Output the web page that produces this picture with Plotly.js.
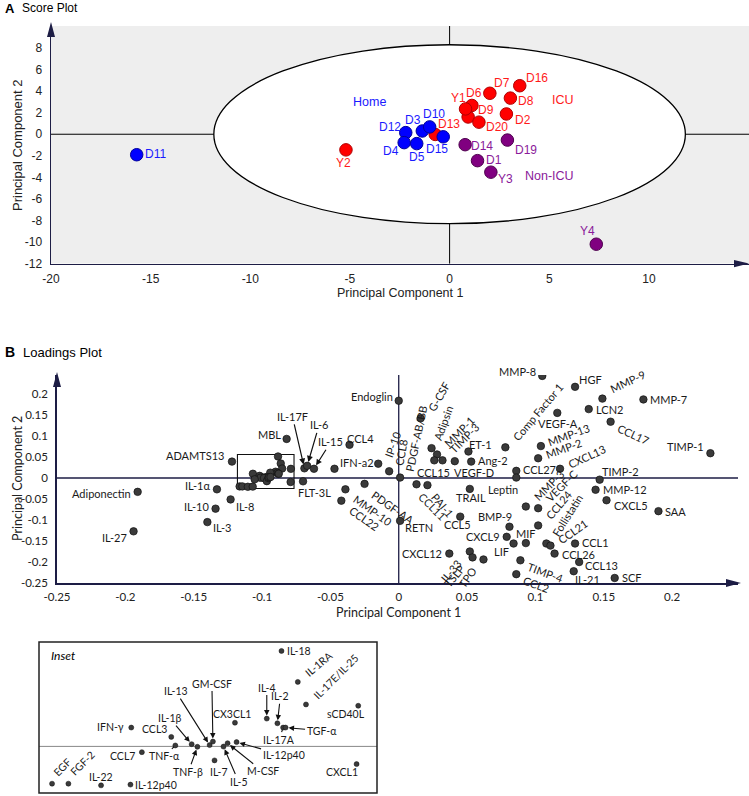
<!DOCTYPE html>
<html><head><meta charset="utf-8">
<script src="https://cdn.plot.ly/plotly-3.0.1.min.js"></script>
<style>html,body{margin:0;padding:0;background:#fff}#chart{width:749px;height:796px}</style>
</head><body><div id="chart"></div>
<script>
// ================= DATA =================
// Score plot (PCA scores)
const homeNames = ['D11','D12','D4','D5','D3','D10','D15'];
const homePC1 = [-15.7,-2.2,-2.28,-1.65,-1.37,-1.0,-0.32];
const homePC2 = [-1.9,0.15,-0.78,-0.87,0.3,0.68,-0.24];
const icuNames = ['Y2','D13','D9','D20','D6','Y1','D7','D16','D8','D2'];
const icuPC1 = [-5.2,-0.72,0.93,1.47,1.12,0.8,2.02,3.52,3.05,2.85];
const icuPC2 = [-1.45,-0.02,1.6,1.12,2.67,2.35,3.8,4.5,3.35,1.88];
const nonIcuNames = ['D14','D19','D1','Y3','Y4'];
const nonIcuPC1 = [0.78,2.9,1.4,2.07,7.36];
const nonIcuPC2 = [-0.97,-0.54,-2.45,-3.52,-10.2];
const groupNames = ['Home','ICU','Non-ICU'];
const ellipsePC1 = 11.83, ellipsePC2 = 8.3;   // Hotelling T2 limits
const scoreXTicks = [-20,-15,-10,-5,0,5,10];
const scoreYTicks = [-12,-10,-8,-6,-4,-2,0,2,4,6,8];

// Loadings plot
const loadNames = ['Endoglin','MMP-8','HGF','MMP-9','MMP-7','LCN2','VEGF-A','CCL17','TIMP-1','Comp Factor 1',
 'MMP-13','MMP-2','CXCL13','CCL27','Leptin','TIMP-2','MMP-12','CXCL5','SAA','G-CSF',
 'Adipsin','MMP-1','CCL15','TIMP-3','VEGF-D','ET-1','Ang-2','IP-10','CCL8','PDGF-AB/BB',
 'CCL11','PAI-1','TRAIL','MMP-3','VEGF-C','CCL24','CCL5','RETN','BMP-9','CXCL9',
 'LIF','MIF','Follistatin','CCL21','CCL1','CCL26','CCL13','CXCL12','IL-33','TSLP',
 'TPO','TIMP-4','CCL2','IL-21','SCF','Adiponectin','IL-27','IL-1α','IL-10','IL-8',
 'IL-3','ADAMTS13','MBL','IL-17F','IL-6','IL-15','CCL4','IFN-a2','FLT-3L','PDGF-AA',
 'MMP-10','CCL22'];
const loadPC1 = [0.000,0.105,0.129,0.149,0.179,0.139,0.116,0.155,0.228,0.078,
 0.104,0.102,0.118,0.086,0.086,0.147,0.144,0.152,0.190,0.016,
 0.024,0.028,0.026,0.032,0.041,0.051,0.053,-0.015,-0.007,0.001,
 0.013,0.021,0.052,0.093,0.102,0.102,0.045,0.001,0.081,0.079,
 0.084,0.093,0.108,0.111,0.129,0.114,0.132,0.037,0.052,0.054,
 0.062,0.089,0.086,0.128,0.158,-0.191,-0.194,-0.133,-0.134,-0.123,
 -0.140,-0.122,-0.082,-0.069,-0.067,-0.062,-0.036,-0.047,-0.070,-0.025,
 -0.039,-0.042];
const loadPC2 = [0.184,0.243,0.217,0.189,0.187,0.164,0.155,0.134,0.059,0.073,
 0.076,0.047,0.022,0.017,0.001,-0.004,-0.028,-0.053,-0.079,0.142,
 0.071,0.056,0.042,0.042,0.040,0.063,0.039,0.034,0.016,0.001,
 -0.015,-0.017,-0.026,-0.068,-0.072,-0.113,-0.092,-0.102,-0.116,-0.140,
 -0.156,-0.155,-0.156,-0.161,-0.156,-0.180,-0.200,-0.180,-0.175,-0.189,
 -0.194,-0.196,-0.229,-0.222,-0.238,-0.033,-0.127,-0.027,-0.073,-0.051,
 -0.105,0.039,0.093,0.023,0.029,0.022,0.079,0.022,-0.008,-0.014,
 -0.027,-0.054];
const loadXTicks = [-0.25,-0.2,-0.15,-0.1,-0.05,0,0.05,0.1,0.15,0.2];
const loadXText = ['-0.25','-0.2','-0.15','-0.1','-0.05','0','0.05','0.1','0.15','0.2'];
const loadYTicks = [-0.25,-0.2,-0.15,-0.1,-0.05,0,0.05,0.1,0.15,0.2];
const loadYText = ['-0.25','-0.2','-0.15','-0.1','-0.05','0','0.05','0.1','0.15','0.2'];

// Inset (zoomed cluster)
const insetNames = ['IL-18','IL-1RA','IL-17E/IL-25','sCD40L','IL-4','IL-2','IL-17A','TGF-α','CX3CL1','IFN-γ',
 'CCL3','GM-CSF','IL-13','IL-1β','TNF-α','TNF-β','IL-7','IL-5','M-CSF','IL-12p40',
 'CCL7','CXCL1','EGF','FGF-2','IL-22','IL-12p40'];
const insetPC1 = [-0.0883,-0.0863,-0.0853,-0.0789,-0.0901,-0.0888,-0.0881,-0.0878,-0.0940,-0.1067,
 -0.1018,-0.0967,-0.0971,-0.0993,-0.1013,-0.0986,-0.0965,-0.0954,-0.0949,-0.0938,
 -0.1054,-0.0791,-0.1164,-0.1144,-0.1104,-0.1068];
const insetPC2 = [0.0512,0.0346,0.0225,0.0218,0.0149,0.0124,0.0101,0.0101,0.0127,0.0101,
 0.0051,0.0026,0.0007,0.0012,0.0005,-0.0002,-0.0075,-0.0001,0.0017,0.0023,
 -0.0031,-0.0095,-0.0200,-0.0200,-0.0209,-0.0205];
const insetRangePC1 = [-0.118,-0.0766];
const insetRangePC2 = [-0.025,0.056];

// ================= STYLE TABLES =================
const W = 749, H = 796;
const fA = 'Liberation Sans, Arial, sans-serif';
const fB = 'Lato, Carlito, Calibri, sans-serif';
const navy = '#1d1d45';
const AN = {l:'left',c:'center',r:'right',t:'top',m:'middle',b:'bottom'};

// score label offsets (px, centre of text relative to marker; dy up)
const scoreLabelOff = {
 D11:[19,1],D12:[-15.7,5.7],D4:[-13.3,-8.3],D5:[0.7,-13],D3:[-9,10.7],D10:[4,12.7],D15:[-6.7,-12.3],
 Y2:[-2.3,-13.3],D13:[14,10.7],Y1:[-6.7,11],D6:[2,12.3],D7:[11.7,10],D16:[17.3,7.7],D8:[16,-3.3],
 D9:[17.7,6.7],D2:[16.7,-5.7],D20:[17.7,-5],D14:[16.7,-1],D19:[18.7,-9.7],D1:[16,1],Y3:[14.3,-7.3],Y4:[-9,13.3]
};
const groupPos = {Home:[-4.0,3.0],'ICU':[5.7,3.15],'Non-ICU':[5.0,-3.9]};

// loadings label style: [dx, dy(up), angle, xanchor, yanchor]
const loadLabel = {
 'Endoglin':[-4,4,0,'r','m'],'MMP-8':[-4,4,0,'r','m'],'HGF':[2,7,0,'l','m'],'MMP-9':[3,1,-25,'l','b'],
 'MMP-7':[5,0,0,'l','m'],'LCN2':[5,0,0,'l','m'],'VEGF-A':[1,-11,0,'c','m'],'CCL17':[3,3,25,'l','t'],
 'TIMP-1':[-4,7,0,'r','m'],'Comp Factor 1':[2,2,-50,'l','b'],'MMP-13':[3,-5,-20,'l','b'],
 'MMP-2':[3,-5,-20,'l','b'],'CXCL13':[3,-5,-25,'l','b'],'CCL27':[5,1,0,'l','m'],'Leptin':[4,-12,0,'r','m'],
 'TIMP-2':[0,8,0,'l','m'],'MMP-12':[5,0,0,'l','m'],'CXCL5':[5,-5,0,'l','m'],'SAA':[5,0,0,'l','m'],
 'G-CSF':[2,2,-60,'l','b'],'Adipsin':[-3,4,-70,'l','b'],'MMP-1':[2,2,-45,'l','b'],'CCL15':[-1,-12,0,'c','m'],
 'TIMP-3':[2,2,-45,'l','b'],'VEGF-D':[19,-11,0,'c','m'],'ET-1':[12,7,0,'c','m'],'Ang-2':[5,1,0,'l','m'],
 'IP-10':[1,2,-70,'l','b'],'CCL8':[1,2,-80,'l','b'],'PDGF-AB/BB':[0,3,-78,'l','b'],'CCL11':[-3,-3,45,'l','t'],
 'PAI-1':[-1,-3,50,'l','t'],'TRAIL':[1,-9,0,'c','m'],'MMP-3':[2,1,-45,'l','b'],'VEGF-C':[2,1,-45,'l','b'],
 'CCL24':[2,1,-50,'l','b'],'CCL5':[-3,-8,0,'c','m'],'RETN':[3,-7,0,'l','m'],'BMP-9':[-14,10,0,'c','m'],
 'CXCL9':[-5,0,0,'r','m'],'LIF':[-12,-8,0,'c','m'],'MIF':[0,10,0,'c','m'],'Follistatin':[0,2,-58,'l','b'],
 'CCL21':[2,-3,-35,'l','b'],'CCL1':[5,1,0,'l','m'],'CCL26':[5,-1,0,'l','m'],'CCL13':[4,-3,0,'l','m'],
 'CXCL12':[-5,0,0,'r','m'],'IL-33':[-3,-2,-50,'r','t'],'TSLP':[-2,-2,-50,'r','t'],'TPO':[-2,-2,-55,'r','t'],
 'TIMP-4':[3,3,20,'l','t'],'CCL2':[3,3,20,'l','t'],'IL-21':[14,-8,0,'c','m'],'SCF':[5,0,0,'l','m'],
 'Adiponectin':[-5,-2,0,'r','m'],'IL-27':[-5,-6,0,'r','m'],'IL-1α':[-5,4,0,'r','m'],'IL-10':[-5,2,0,'r','m'],
 'IL-8':[3,-7,0,'l','m'],'IL-3':[4,-5,0,'l','m'],'ADAMTS13':[-6,6,0,'r','m'],'MBL':[-4,4,0,'r','m'],
 'CCL4':[11,6,0,'c','m'],'IFN-a2':[4,6,0,'l','m'],'FLT-3L':[11,-11,0,'c','m'],'PDGF-AA':[2,-1,35,'l','t'],
 'MMP-10':[3,0,35,'l','t'],'CCL22':[3,0,35,'l','t']
};
const loadArrow = {'IL-17F':[-12,-52],'IL-6':[12,-41],'IL-15':[17,-27]};

// inset label style, aligned with insetNames: ['t',dx,dy,angle,xa,ya] | ['a',ax,ay] arrow | ['n',ax,ay] leader
const insetLabel = [
 ['t',4,0,0,'l','m'],['t',2,0,-40,'l','b'],['t',2,0,-45,'l','b'],['t',-12,-8,0,'c','m'],['a',0,-31],
 ['a',3,-27],['n',-4,12],['a',36,3],['t',-3,9,0,'c','m'],['t',-5,1,0,'r','m'],
 ['t',-17,8,0,'c','m'],['a',-1,-58],['a',-34,-54],['a',-22,-26],['n',-11,11],
 ['a',-9,25],['t',4,-12,0,'c','m'],['a',15,35],['a',35,28],['a',47,13],
 ['t',-5,-4,0,'r','m'],['t',-15,-8,0,'c','m'],['t',-4,3,-45,'l','b'],['t',-3,3,-45,'l','b'],['t',0,8,0,'c','m'],
 ['t',3,0,0,'l','m']
];

// ================= BUILD =================
const px = p => p / W, py = p => 1 - p / H;
const P = (x, y) => `${px(x)},${py(y)}`;

function scoreTrace(names, x, y, fill, edge) {
  return {type:'scatter', mode:'markers', x, y, text:names, xaxis:'x', yaxis:'y', hoverinfo:'text',
    marker:{size:12.5, color:fill, line:{color:edge, width:1}}};
}
const traces = [
  scoreTrace(icuNames, icuPC1, icuPC2, '#ff0000', '#b00000'),
  scoreTrace(homeNames, homePC1, homePC2, '#0000ff', '#00009a'),
  scoreTrace(nonIcuNames, nonIcuPC1, nonIcuPC2, '#800080', '#4d004d'),
  {type:'scatter', mode:'markers', x:loadPC1.concat(insetPC1), y:loadPC2.concat(insetPC2), xaxis:'x2', yaxis:'y2',
    marker:{size:7.5, color:'#3a3a3a', line:{color:'#111', width:0.7}}, hoverinfo:'skip'},
  {type:'scatter', mode:'markers', x:insetPC1, y:insetPC2, xaxis:'x3', yaxis:'y3',
    marker:{size:5, color:'#3a3a3a', line:{color:'#111', width:0.5}}, hoverinfo:'skip'}
];

const ann = [];
function addScore(names, x, y, color) {
  names.forEach((n, i) => {
    const o = scoreLabelOff[n];
    ann.push({xref:'x', yref:'y', x:x[i], y:y[i], text:n, showarrow:false, xanchor:'center', yanchor:'middle',
      xshift:o[0], yshift:o[1], font:{family:fA, size:12, color}});
  });
}
addScore(icuNames, icuPC1, icuPC2, '#ff1a1a');
addScore(homeNames, homePC1, homePC2, '#1a1aff');
addScore(nonIcuNames, nonIcuPC1, nonIcuPC2, '#8a1a9a');
const groupColor = {Home:'#1a1aff','ICU':'#ff1a1a','Non-ICU':'#8a1a9a'};
groupNames.forEach(g => ann.push({xref:'x', yref:'y', x:groupPos[g][0], y:groupPos[g][1], text:g, showarrow:false,
  font:{family:fA, size:12.5, color:groupColor[g]}}));

const labFont = {family:fB, size:11, color:'#1a1a1a'};
loadNames.forEach((n, i) => {
  if (loadArrow[n]) {
    const a = loadArrow[n];
    ann.push({xref:'x2', yref:'y2', x:loadPC1[i], y:loadPC2[i], text:n, showarrow:true, ax:a[0], ay:a[1],
      arrowhead:2, arrowsize:1, arrowwidth:1.2, arrowcolor:'#111', standoff:4, font:labFont});
    return;
  }
  const s = loadLabel[n];
  ann.push({xref:'x2', yref:'y2', x:loadPC1[i], y:loadPC2[i], text:n, showarrow:false, xshift:s[0], yshift:s[1],
    textangle:s[2], xanchor:AN[s[3]], yanchor:AN[s[4]], font:labFont});
});

const inFont = {family:fB, size:10.5, color:'#1a1a1a'};
insetNames.forEach((n, i) => {
  const s = insetLabel[i];
  if (s[0] === 't') {
    ann.push({xref:'x3', yref:'y3', x:insetPC1[i], y:insetPC2[i], text:n, showarrow:false, xshift:s[1], yshift:s[2],
      textangle:s[3], xanchor:AN[s[4]], yanchor:AN[s[5]], font:inFont});
  } else {
    ann.push({xref:'x3', yref:'y3', x:insetPC1[i], y:insetPC2[i], text:n, showarrow:true, ax:s[1], ay:s[2],
      arrowhead:s[0] === 'a' ? 2 : 0, arrowsize:1, arrowwidth:1.1, arrowcolor:'#111', standoff:s[0] === 'a' ? 3 : 2, font:inFont});
  }
});

// panel headings and axis titles
function paperText(x, y, text, font, angle) {
  ann.push({xref:'paper', yref:'paper', x:px(x), y:py(y), xanchor:angle ? 'center' : 'left', yanchor:'middle',
    showarrow:false, text, font, textangle:angle || 0});
}
paperText(3, 8, '<b>A</b>', {family:fA, size:13, color:'#000'});
paperText(20, 8, 'Score Plot', {family:fA, size:12, color:'#000'});
paperText(3, 352, '<b>B</b>', {family:fA, size:14, color:'#000'});
paperText(21, 352, 'Loadings Plot', {family:fA, size:13, color:'#000'});
paperText(49, 655, '<i>Inset</i>', {family:fB, size:12, color:'#000'});
ann.push({xref:'paper', yref:'paper', x:px(400), y:py(293), xanchor:'center', yanchor:'middle', showarrow:false,
  text:'Principal Component 1', font:{family:fA, size:12.5, color:'#222'}});
ann.push({xref:'paper', yref:'paper', x:px(17), y:py(145), xanchor:'center', yanchor:'middle', showarrow:false,
  textangle:-90, text:'Principal Component 2', font:{family:fA, size:13, color:'#222'}});
ann.push({xref:'paper', yref:'paper', x:px(399), y:py(612), xanchor:'center', yanchor:'middle', showarrow:false,
  text:'Principal Component 1', font:{family:fB, size:12.5, color:'#222'}});
ann.push({xref:'paper', yref:'paper', x:px(17), y:py(479), xanchor:'center', yanchor:'middle', showarrow:false,
  textangle:-90, text:'Principal Component 2', font:{family:fB, size:12.5, color:'#222'}});

const shapes = [
  {type:'rect', xref:'x domain', yref:'y domain', x0:0, x1:1, y0:0, y1:1, fillcolor:'#eeeeee', line:{width:0}, layer:'below'},
  {type:'circle', xref:'x', yref:'y', x0:-ellipsePC1, x1:ellipsePC1, y0:-ellipsePC2, y1:ellipsePC2,
    fillcolor:'#ffffff', line:{color:'#000', width:1.3}, layer:'below'},
  {type:'line', xref:'x', yref:'y domain', x0:0, x1:0, y0:0, y1:1, line:{color:'#000', width:1}, layer:'below'},
  {type:'line', xref:'x domain', yref:'y', x0:0, x1:1, y0:0, y1:0, line:{color:'#000', width:1}, layer:'below'},
  // loadings zero lines
  {type:'line', xref:'x2', yref:'y2 domain', x0:0, x1:0, y0:0, y1:1, line:{color:navy, width:1.3}, layer:'below'},
  {type:'line', xref:'x2 domain', yref:'y2', x0:0, x1:1, y0:0, y1:0, line:{color:navy, width:1.3}, layer:'below'},
  // inset region box
  {type:'rect', xref:'x2', yref:'y2', x0:insetRangePC1[0], x1:insetRangePC1[1], y0:insetRangePC2[0], y1:insetRangePC2[1],
    line:{color:'#111', width:1.1}, layer:'below'},
  // inset frame and zero line
  {type:'line', xref:'x3 domain', yref:'y3', x0:0, x1:1, y0:0, y1:0, line:{color:'#888', width:1}, layer:'below'},
  {type:'rect', xref:'x3 domain', yref:'y3 domain', x0:0, x1:1, y0:0, y1:1, line:{color:'#222', width:1.5}},
  // axis arrowheads
  {type:'path', xref:'paper', yref:'paper', path:`M${P(51,22)} L${P(47,37)} L${P(55,37)} Z`, fillcolor:navy, line:{width:0}},
  {type:'path', xref:'paper', yref:'paper', path:`M${P(749,263.6)} L${P(734,260)} L${P(734,267.2)} Z`, fillcolor:navy, line:{width:0}},
  {type:'path', xref:'paper', yref:'paper', path:`M${P(57,372)} L${P(53,387)} L${P(61,387)} Z`, fillcolor:navy, line:{width:0}},
  {type:'path', xref:'paper', yref:'paper', path:`M${P(741,583)} L${P(726,579)} L${P(726,587)} Z`, fillcolor:navy, line:{width:0}}
];

const tickA = {family:fA, size:12, color:'#222'};
const tickB = {family:fB, size:11.5, color:'#222'};
const layout = {
  width:W, height:H, margin:{l:0, r:0, t:0, b:0}, paper_bgcolor:'#fff', plot_bgcolor:'rgba(0,0,0,0)',
  showlegend:false, font:{family:fA},
  xaxis:{domain:[px(51), 1], range:[-20, -20 + (W - 51) / 19.93], anchor:'y', showgrid:false, zeroline:false,
    showline:true, linecolor:navy, linewidth:1.5, ticks:'', tickvals:scoreXTicks, ticktext:scoreXTicks.map(String),
    tickfont:tickA, ticklabelstandoff:3},
  yaxis:{domain:[py(263.6), py(26)], range:[-12, 10.04], anchor:'x', showgrid:false, zeroline:false,
    showline:true, linecolor:navy, linewidth:1.5, ticks:'', tickvals:scoreYTicks, ticktext:scoreYTicks.map(String),
    tickfont:tickA, ticklabelstandoff:5},
  xaxis2:{domain:[px(57), px(738)], range:[-0.25, 0.2482], anchor:'y2', showgrid:false, zeroline:false,
    showline:true, linecolor:navy, linewidth:1.8, ticks:'', tickvals:loadXTicks, ticktext:loadXText,
    tickfont:tickB, ticklabelstandoff:2},
  yaxis2:{domain:[py(583), py(375)], range:[-0.25, 0.2452], anchor:'x2', showgrid:false, zeroline:false,
    showline:true, linecolor:navy, linewidth:1.8, ticks:'', tickvals:loadYTicks, ticktext:loadYText,
    tickfont:tickB, ticklabelstandoff:5},
  xaxis3:{domain:[px(39), px(377)], range:insetRangePC1, anchor:'y3', showgrid:false, zeroline:false,
    showline:false, showticklabels:false, ticks:''},
  yaxis3:{domain:[py(793), py(642)], range:insetRangePC2, anchor:'x3', showgrid:false, zeroline:false,
    showline:false, showticklabels:false, ticks:''},
  shapes, annotations:ann
};

Plotly.newPlot('chart', traces, layout, {displayModeBar:false, staticPlot:true});
</script>
</body></html>
